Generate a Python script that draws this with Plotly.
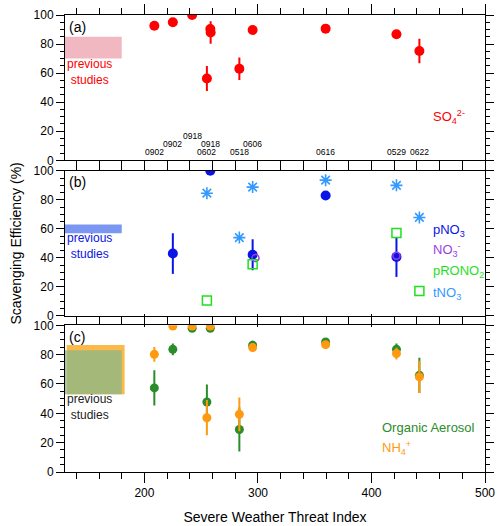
import plotly.graph_objects as go

# ---------------- data ----------------
# Severe Weather Threat Index of each case and its date label
case_x = [208.7, 225.0, 242.0, 258.0, 255.0, 283.6, 295.3, 359.6, 422.0, 442.2]
case_dates = ["0902", "0902", "0918", "0918", "0602", "0518", "0606", "0616", "0529", "0622"]
case_row = [0, 1, 2, 1, 0, 0, 1, 0, 0, 0]

# (a) sulfate
so4_x = [208.7, 225.0, 242.0, 258.0, 258.3, 255.0, 283.6, 295.3, 359.6, 422.0, 442.2]
so4_y = [92.6, 95.0, 100.0, 90.3, 88.0, 56.3, 63.0, 89.7, 90.6, 86.7, 75.2]
so4_err = [0, 0, 0, 0, 7.7, 8.6, 7.7, 0, 0, 1.5, 8.4]

# (b) nitrate species
pno3_x = [225.0, 258.0, 295.3, 359.6, 422.0]
pno3_y = [43.0, 100.0, 42.2, 83.0, 40.7]
pno3_err = [14.0, 0, 10.7, 0, 13.8]

no3_x = [297.8, 422.0]
no3_y = [40.0, 41.5]

prono2_x = [255.0, 295.3, 422.0, 442.2]
prono2_y = [10.6, 35.6, 57.2, 17.2]

tno3_x = [255.0, 283.6, 295.3, 359.6, 422.0, 442.2]
tno3_y = [84.6, 54.0, 88.8, 93.6, 90.0, 67.9]

# (c) organic aerosol and ammonium
oa_x = [208.7, 225.0, 242.0, 258.0, 255.0, 283.6, 295.3, 359.6, 422.0, 442.2]
oa_y = [57.3, 83.6, 98.0, 98.0, 47.7, 29.0, 86.4, 88.6, 83.6, 65.9]
oa_err = [12.0, 4.0, 0, 0, 12.0, 15.0, 3.0, 0, 4.0, 12.0]

nh4_x = [208.7, 225.0, 242.0, 258.0, 255.0, 283.6, 295.3, 359.6, 422.0, 442.2]
nh4_y = [80.2, 99.5, 99.5, 99.5, 37.0, 39.3, 84.8, 86.8, 80.7, 64.8]
nh4_err = [5.0, 0, 0, 0, 12.0, 11.5, 3.0, 0, 4.0, 11.0]

# previous studies ranges
prev_x = [130, 180]
so4_prev = [70, 85]
no3_prev = [57, 63]
oa_prev = [53, 83]
nh4_prev = [53, 86.5]

# ---------------- style ----------------
FONT = "Liberation Sans, Arial, Helvetica, sans-serif"
RED = "#ff0000"
BLUE = "#0a14e6"
PURPLE = "#9a3ee0"
LGREEN = "#1ee01e"
SKY = "#3399ff"
DGREEN = "#2a8c2a"
ORANGE = "#ff9a10"

fig = go.Figure()


def err(arr, color):
    return dict(type="data", array=arr, visible=True, thickness=2, width=0, color=color)


# (a)
fig.add_trace(go.Scatter(x=so4_x, y=so4_y, mode="markers", xaxis="x", yaxis="y",
                         marker=dict(color=RED, size=10), error_y=err(so4_err, RED)))
# (b)
fig.add_trace(go.Scatter(x=pno3_x, y=pno3_y, mode="markers", xaxis="x2", yaxis="y2",
                         marker=dict(color=BLUE, size=10), error_y=err(pno3_err, BLUE)))
fig.add_trace(go.Scatter(x=no3_x, y=no3_y, mode="markers", xaxis="x2", yaxis="y2",
                         marker=dict(color=PURPLE, size=7, symbol="circle-open", line=dict(width=1.5))))
fig.add_trace(go.Scatter(x=prono2_x, y=prono2_y, mode="markers", xaxis="x2", yaxis="y2",
                         marker=dict(color=LGREEN, size=9, symbol="square-open", line=dict(width=1.5))))
fig.add_trace(go.Scatter(x=tno3_x, y=tno3_y, mode="markers", xaxis="x2", yaxis="y2",
                         marker=dict(color=SKY, size=10, symbol="asterisk-open",
                                     line=dict(width=1.6, color=SKY))))
# (c)
fig.add_trace(go.Scatter(x=oa_x, y=oa_y, mode="markers", xaxis="x3", yaxis="y3",
                         marker=dict(color=DGREEN, size=9), error_y=err(oa_err, DGREEN)))
fig.add_trace(go.Scatter(x=nh4_x, y=nh4_y, mode="markers", xaxis="x3", yaxis="y3",
                         marker=dict(color=ORANGE, size=9), error_y=err(nh4_err, ORANGE)))

shapes = [
    dict(type="rect", xref="x", yref="y", x0=prev_x[0], x1=prev_x[1], y0=so4_prev[0], y1=so4_prev[1],
         fillcolor="#f2b8c2", line=dict(width=0), layer="below"),
    dict(type="rect", xref="x2", yref="y2", x0=prev_x[0], x1=prev_x[1], y0=no3_prev[0], y1=no3_prev[1],
         fillcolor="#7b97f2", line=dict(width=0), layer="below"),
    dict(type="rect", xref="x3", yref="y3", x0=prev_x[0] + 1.5, x1=prev_x[1] + 2.5, y0=nh4_prev[0], y1=nh4_prev[1],
         fillcolor="#fcb848", line=dict(width=0), layer="below"),
    dict(type="rect", xref="x3", yref="y3", x0=prev_x[0], x1=prev_x[0] + 1.5, y0=oa_prev[0], y1=oa_prev[1],
         fillcolor="#a6c2a6", line=dict(width=0), layer="below"),
    dict(type="rect", xref="x3", yref="y3", x0=prev_x[0] + 1.5, x1=prev_x[1], y0=oa_prev[0], y1=oa_prev[1],
         fillcolor="#a3b879", line=dict(width=0), layer="below"),
]

ann = []
row_y = [5.7, 11.0, 16.5]
for x, d, r in zip(case_x, case_dates, case_row):
    ann.append(dict(x=x, y=row_y[r], xref="x", yref="y", text=d, showarrow=False,
                    font=dict(size=8.5, color="black", family=FONT)))


def txt(x, y, s, color, ax, size=13, xanchor="left"):
    ann.append(dict(x=x, y=y, xref="x" + ax, yref="y" + ax, text=s, showarrow=False,
                    xanchor=xanchor, font=dict(size=size, color=color, family=FONT)))


txt(132, 92, "(a)", "black", "", 14)
txt(132, 92, "(b)", "black", "2", 14)
txt(132, 92, "(c)", "black", "3", 14)
txt(151.5, 60.5, "previous<br>studies", RED, "", 12, "center")
txt(151.5, 48, "previous<br>studies", BLUE, "2", 12, "center")
txt(151.5, 44, "previous<br>studies", "#222222", "3", 12, "center")
txt(452, 29.9, "SO<sub>4</sub><sup>2-</sup>", RED, "", 13)
txt(452, 59, "pNO<sub>3</sub>", BLUE, "2", 13)
txt(452, 45.3, "NO<sub>3</sub><sup>-</sup>", PURPLE, "2", 13)
txt(452, 30.3, "pRONO<sub>2</sub>", LGREEN, "2", 13)
txt(452, 15.6, "tNO<sub>3</sub>", SKY, "2", 13)
txt(407.5, 30, "Organic Aerosol", DGREEN, "3", 13)
txt(407.5, 16.2, "NH<sub>4</sub><sup>+</sup>", ORANGE, "3", 13)

domains = {"": [0.682, 1.0], "2": [0.3414, 0.659], "3": [0.0, 0.321]}


def xax(labels, anchor):
    return dict(range=[130, 500], tick0=0, dtick=100, ticks="outside", ticklen=10, tickwidth=1,
                tickcolor="black", showline=True, linecolor="black", linewidth=1, mirror="ticks",
                showgrid=False, zeroline=False, showticklabels=labels, anchor=anchor, automargin=False,
                minor=dict(dtick=20, ticks="outside", ticklen=6, tickcolor="black", tickwidth=1, showgrid=False),
                tickfont=dict(size=12, family=FONT, color="black"))


def yax(dom, anchor, title=None):
    d = dict(range=[0, 100], domain=dom, tick0=0, dtick=20, ticks="outside", ticklen=8, tickwidth=1,
             tickcolor="black", showline=True, linecolor="black", linewidth=1, mirror="ticks",
             showgrid=False, zeroline=False, anchor=anchor, automargin=False,
             minor=dict(dtick=5, ticks="outside", ticklen=4, tickcolor="black", tickwidth=1, showgrid=False),
             tickfont=dict(size=12, family=FONT, color="black"))
    if title:
        d["title"] = dict(text=title, font=dict(size=14, family=FONT, color="black"), standoff=8)
    return d


fig.update_layout(
    width=500, height=526,
    margin=dict(l=65, r=15, t=15, b=54),
    paper_bgcolor="white", plot_bgcolor="white",
    showlegend=False,
    font=dict(family=FONT, color="black"),
    xaxis=xax(False, "y"),
    xaxis2=xax(False, "y2"),
    xaxis3=dict(xax(True, "y3"), title=dict(text="Severe Weather Threat Index",
                                            font=dict(size=14, family=FONT, color="black"), standoff=12)),
    yaxis=yax(domains[""], "x"),
    yaxis2=yax(domains["2"], "x2", "Scavenging Efficiency (%)"),
    yaxis3=yax(domains["3"], "x3"),
    shapes=shapes,
    annotations=ann,
)

fig.write_html("out.html")
